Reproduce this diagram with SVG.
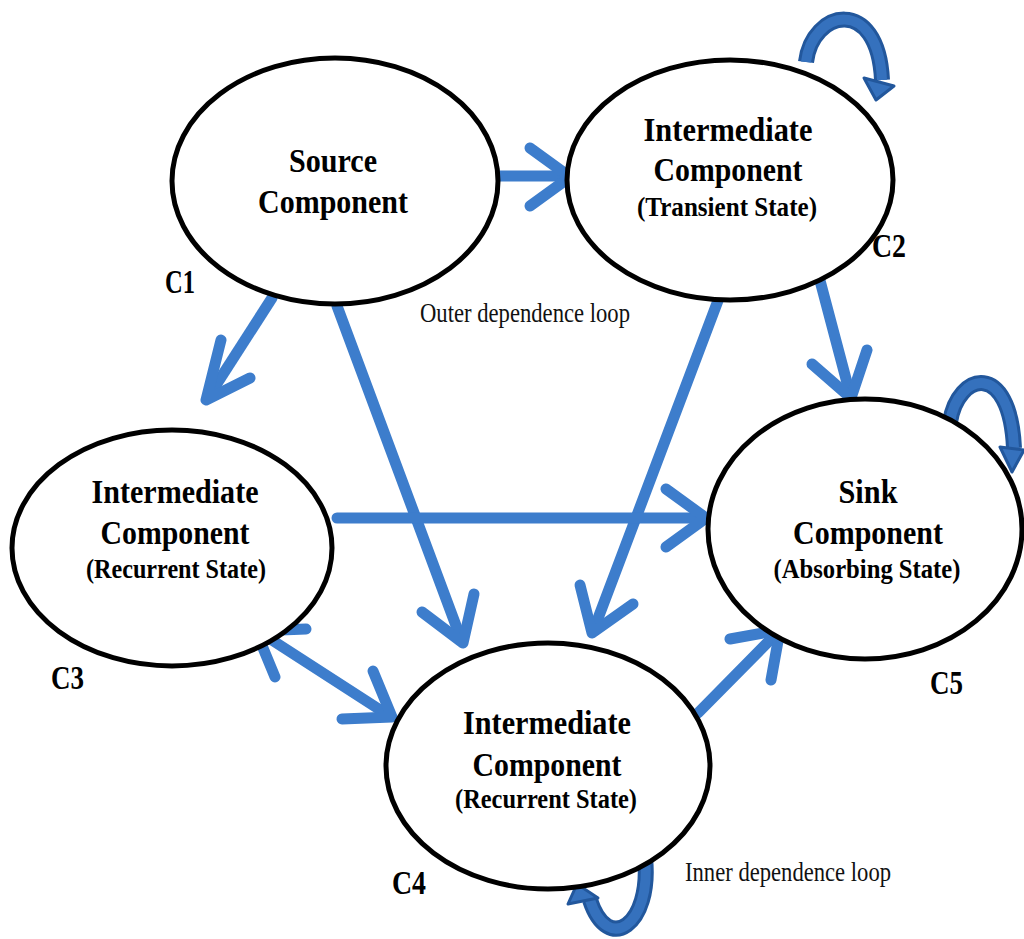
<svg xmlns="http://www.w3.org/2000/svg" width="1024" height="939" viewBox="0 0 1024 939">
  <defs>
    <style>
      .node { fill: #ffffff; stroke: #000000; stroke-width: 5; }
      .t { font-family: "Liberation Serif", "DejaVu Serif", serif; font-weight: bold; font-size: 34px; text-anchor: middle; fill: #000; }
      .s { font-family: "Liberation Serif", "DejaVu Serif", serif; font-weight: bold; font-size: 27px; text-anchor: middle; fill: #000; }
      .lbl { font-family: "Liberation Serif", "DejaVu Serif", serif; font-weight: bold; font-size: 34px; fill: #000; }
      .note { font-family: "Liberation Serif", "DejaVu Serif", serif; font-size: 27px; fill: #111; }
      .edge { fill: none; stroke: #3d7dcc; stroke-width: 11; stroke-linecap: round; stroke-linejoin: round; }
      .loop-o { fill: none; stroke: #22579c; stroke-width: 16; stroke-linecap: butt; }
      .loop-i { fill: none; stroke: #3571bd; stroke-width: 10; stroke-linecap: butt; }
      .loop-h { fill: #3571bd; stroke: #22579c; stroke-width: 3; stroke-linejoin: round; }
    </style>
  </defs>

  <!-- connectors -->
  <g id="connectors">
    <!-- C1 -> C2 -->
    <path class="edge" d="M497 176 L566 176"/>
    <path class="edge" d="M530 148 L570 177 L530 206"/>
    <!-- C1 -> C3 -->
    <path class="edge" d="M272 298 L209 396"/>
    <path class="edge" d="M221 340 L206 400 L250 378"/>
    <!-- C1 -> C4 -->
    <path class="edge" d="M337 306 L461 639"/>
    <path class="edge" d="M422 612 L463 643 L474 594"/>
    <!-- C2 -> C4 -->
    <path class="edge" d="M722 290 L594 629"/>
    <path class="edge" d="M580 585 L592 633 L633 604"/>
    <!-- C2 -> C5 -->
    <path class="edge" d="M818 273 L850 394"/>
    <path class="edge" d="M812 364 L851 398 L867 350"/>
    <!-- C3 -> C5 -->
    <path class="edge" d="M337 518 L702 518"/>
    <path class="edge" d="M666 489 L706 518 L666 547"/>
    <!-- C3 <-> C4 -->
    <path class="edge" d="M261 633 L388 715"/>
    <path class="edge" d="M342 719 L392 717 L373 671"/>
    <path class="edge" d="M275 677 L256 631 L306 629"/>
    <!-- C4 -> C5 -->
    <path class="edge" d="M698 713 L776 634"/>
    <path class="edge" d="M730 639 L780 630 L771 680"/>
  </g>

  <!-- self loops -->
  <g id="self-loops">
    <g id="loop-c2">
      <path class="loop-o" d="M806 62 C812 10 878 -5 882 80"/>
      <path class="loop-i" d="M806 62 C812 10 878 -5 882 80"/>
      <path class="loop-h" d="M864 78 L894 86 L876 100 Z"/>
    </g>
    <g id="loop-c5">
      <path class="loop-o" d="M950 422 C958 372 1010 360 1014 448"/>
      <path class="loop-i" d="M950 422 C958 372 1010 360 1014 448"/>
      <path class="loop-h" d="M1000 447 L1024 450 L1012 472 Z"/>
    </g>
    <g id="loop-c4">
      <path class="loop-o" d="M645 858 C652 925 608 955 590 900"/>
      <path class="loop-i" d="M645 858 C652 925 608 955 590 900"/>
      <path class="loop-h" d="M568 904 L577 884 L598 898 Z"/>
    </g>
  </g>

  <g id="node-c1">
    <ellipse class="node" cx="335" cy="181" rx="163" ry="123"/>
    <text class="t" x="333" y="172" textLength="88" lengthAdjust="spacingAndGlyphs">Source</text>
    <text class="t" x="333" y="213" textLength="150" lengthAdjust="spacingAndGlyphs">Component</text>
  </g>

  <g id="node-c2">
    <ellipse class="node" cx="730" cy="180" rx="163" ry="120"/>
    <text class="t" x="728" y="141" textLength="169" lengthAdjust="spacingAndGlyphs">Intermediate</text>
    <text class="t" x="728" y="181" textLength="149" lengthAdjust="spacingAndGlyphs">Component</text>
    <text class="s" x="727" y="216" textLength="180" lengthAdjust="spacingAndGlyphs">(Transient State)</text>
  </g>

  <g id="node-c3">
    <ellipse class="node" cx="172" cy="548" rx="160" ry="118"/>
    <text class="t" x="175" y="503" textLength="167" lengthAdjust="spacingAndGlyphs">Intermediate</text>
    <text class="t" x="175" y="544" textLength="149" lengthAdjust="spacingAndGlyphs">Component</text>
    <text class="s" x="176" y="578" textLength="180" lengthAdjust="spacingAndGlyphs">(Recurrent State)</text>
  </g>

  <g id="node-c4">
    <ellipse class="node" cx="548" cy="766" rx="162" ry="123"/>
    <text class="t" x="547" y="734" textLength="168" lengthAdjust="spacingAndGlyphs">Intermediate</text>
    <text class="t" x="547" y="776" textLength="149" lengthAdjust="spacingAndGlyphs">Component</text>
    <text class="s" x="546" y="808" textLength="182" lengthAdjust="spacingAndGlyphs">(Recurrent State)</text>
  </g>

  <g id="node-c5">
    <ellipse class="node" cx="865" cy="529" rx="157" ry="130"/>
    <text class="t" x="868" y="503" textLength="59" lengthAdjust="spacingAndGlyphs">Sink</text>
    <text class="t" x="868" y="544" textLength="150" lengthAdjust="spacingAndGlyphs">Component</text>
    <text class="s" x="867" y="578" textLength="187" lengthAdjust="spacingAndGlyphs">(Absorbing State)</text>
  </g>

  <!-- component tags -->
  <g id="tags">
    <text class="lbl" x="165" y="293" textLength="30" lengthAdjust="spacingAndGlyphs">C1</text>
    <text class="lbl" x="872" y="257" textLength="34" lengthAdjust="spacingAndGlyphs">C2</text>
    <text class="lbl" x="51" y="689" textLength="33" lengthAdjust="spacingAndGlyphs">C3</text>
    <text class="lbl" x="392" y="894" textLength="34" lengthAdjust="spacingAndGlyphs">C4</text>
    <text class="lbl" x="930" y="694" textLength="33" lengthAdjust="spacingAndGlyphs">C5</text>
  </g>

  <g id="notes">
    <text class="note" x="420" y="322" textLength="210" lengthAdjust="spacingAndGlyphs">Outer dependence loop</text>
    <text class="note" x="685" y="881" textLength="206" lengthAdjust="spacingAndGlyphs">Inner dependence loop</text>
  </g>
</svg>
